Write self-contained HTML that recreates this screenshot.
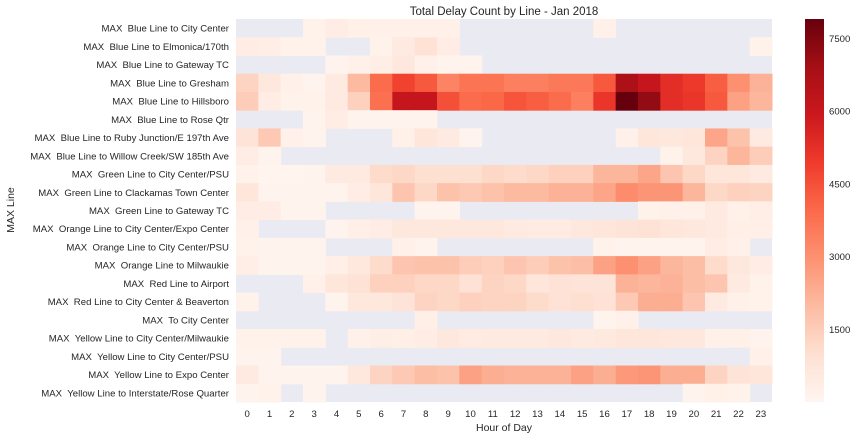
<!DOCTYPE html>
<html><head><meta charset="utf-8">
<style>
body{margin:0;background:#fff;font-family:"Liberation Sans",sans-serif;}
svg text{font-family:"Liberation Sans",sans-serif;fill:#262626;white-space:pre;}
</style></head>
<body>
<svg id="chart" width="860" height="438">
<text x="504" y="15" font-size="11.5" text-anchor="middle">Total Delay Count by Line - Jan 2018</text>
<text x="504" y="431" font-size="10.5" text-anchor="middle">Hour of Day</text>
<text x="14" y="210" font-size="10.5" text-anchor="middle" transform="rotate(-90 14 210)">MAX Line</text>
<g id="cells"></g>
<g id="ylabels"></g>
<g id="xlabels"></g>
<defs><linearGradient id="cbgrad" x1="0" y1="1" x2="0" y2="0"></linearGradient></defs>
<rect x="805" y="19" width="19" height="383" fill="url(#cbgrad)"/>
<g id="cbticks"></g>
</svg>
<script>
const lines = ["MAX  Blue Line to City Center","MAX  Blue Line to Elmonica/170th","MAX  Blue Line to Gateway TC","MAX  Blue Line to Gresham","MAX  Blue Line to Hillsboro","MAX  Blue Line to Rose Qtr","MAX  Blue Line to Ruby Junction/E 197th Ave","MAX  Blue Line to Willow Creek/SW 185th Ave","MAX  Green Line to City Center/PSU","MAX  Green Line to Clackamas Town Center","MAX  Green Line to Gateway TC","MAX  Orange Line to City Center/Expo Center","MAX  Orange Line to City Center/PSU","MAX  Orange Line to Milwaukie","MAX  Red Line to Airport","MAX  Red Line to City Center & Beaverton","MAX  To City Center","MAX  Yellow Line to City Center/Milwaukie","MAX  Yellow Line to City Center/PSU","MAX  Yellow Line to Expo Center","MAX  Yellow Line to Interstate/Rose Quarter"];
const hours = [0,1,2,3,4,5,6,7,8,9,10,11,12,13,14,15,16,17,18,19,20,21,22,23];
const cbTicks = [1500,3000,4500,6000,7500];
const N = null;
const row0 = [N,N,N,150,400,250,200,200,200,200,N,N,N,N,N,N,200,N,N,N,N,N,N,N];
const row1 = [400,350,150,150,N,N,150,500,900,400,N,N,N,N,N,N,N,N,N,N,N,N,N,150];
const row2 = [N,N,N,N,100,200,350,600,200,100,100,N,N,N,N,N,N,N,N,N,N,N,N,N];
const row3 = [1300,600,200,100,500,2000,3900,4800,4300,3300,3700,3700,3400,3400,3600,3600,4300,6700,6100,5300,5000,4200,3000,2200];
const row4 = [1500,400,150,150,500,1400,3800,6100,6100,4500,3900,4000,4400,4200,3900,3400,5100,7900,7200,5300,5100,4300,2600,2100];
const row5 = [N,N,N,100,400,100,100,100,100,N,N,N,N,N,N,N,N,N,N,N,N,N,N,N];
const row6 = [800,1600,200,100,N,N,N,250,700,500,100,N,N,N,N,N,N,200,700,600,700,2500,1800,500];
const row7 = [400,100,N,N,N,N,N,N,N,N,N,N,N,N,N,N,N,N,N,150,600,1300,2100,1500];
const row8 = [150,50,50,100,500,500,1100,1200,1000,1000,1000,1200,1100,1200,1400,1400,2100,2100,2500,1700,1200,700,700,500];
const row9 = [700,100,100,100,100,400,700,1700,1200,1800,1600,1800,2000,2000,2200,2200,2500,3100,2900,2900,2100,1200,1400,1300];
const row10 = [400,400,100,100,N,N,N,N,100,100,N,N,N,N,N,N,N,N,150,200,200,500,200,350];
const row11 = [200,N,N,N,100,300,400,600,600,600,600,600,500,450,450,600,700,800,900,700,600,500,300,300];
const row12 = [150,100,100,100,N,N,N,200,100,N,N,N,N,N,N,N,150,100,100,100,100,400,200,N];
const row13 = [350,100,100,100,300,600,1100,1700,1800,1800,1500,1400,1700,1500,1800,1900,2600,3000,2600,2100,1900,1100,600,400];
const row14 = [N,N,N,200,700,900,1400,1400,1200,1200,900,1300,1200,700,900,800,800,2200,2100,2200,1900,1700,500,150];
const row15 = [150,N,N,N,100,600,600,800,1300,1200,1400,1300,1300,1100,900,1000,900,1600,2300,2300,1700,500,200,150];
const row16 = [N,N,N,N,N,N,N,N,300,N,N,N,N,N,N,N,100,200,N,N,N,N,N,N];
const row17 = [150,150,150,150,N,200,350,300,400,600,450,500,500,500,600,500,550,700,700,600,600,200,250,100];
const row18 = [100,100,N,N,N,N,N,N,N,N,N,N,N,N,N,N,N,N,N,N,N,N,N,200];
const row19 = [500,100,100,100,100,600,1300,1600,1900,1800,2600,2300,2200,2200,2200,2600,2300,2800,2900,2300,2300,1300,800,700];
const row20 = [100,150,N,100,N,N,N,N,N,N,N,N,N,N,N,N,N,N,N,N,100,250,150,N];
const values = [row0,row1,row2,row3,row4,row5,row6,row7,row8,row9,row10,row11,row12,row13,row14,row15,row16,row17,row18,row19,row20];

const VMIN=0, VMAX=7900;
const X0=236, X1=772, Y0=19, Y1=402;
const cw=(X1-X0)/hours.length, rh=(Y1-Y0)/lines.length;
const xPos=i=>X0+i*cw, yPos=j=>Y0+j*rh;
const stops=["#fff5f0","#fee0d2","#fcbba1","#fc9272","#fb6a4a","#ef3b2c","#cb181d","#a50f15","#67000d"];
function hex(h){return [1,3,5].map(k=>parseInt(h.substr(k,2),16));}
function color(v){let t=Math.max(0,Math.min(1,(v-VMIN)/(VMAX-VMIN)))*(stops.length-1);
 let i=Math.min(Math.floor(t),stops.length-2),f=t-i;const a=hex(stops[i]),b=hex(stops[i+1]);
 return "rgb("+a.map((c,k)=>Math.round(c+(b[k]-c)*f)).join(",")+")";}
const NS="http://www.w3.org/2000/svg";
const cells=document.getElementById("cells");
const bg=document.createElementNS(NS,"rect");
bg.setAttribute("x",X0);bg.setAttribute("y",Y0);bg.setAttribute("width",X1-X0);bg.setAttribute("height",Y1-Y0);bg.setAttribute("fill","#eaeaf2");


cells.appendChild(bg);
values.forEach((row,j)=>row.forEach((v,i)=>{
 if(v===null)return;
 const r=document.createElementNS(NS,"rect");
 r.setAttribute("x",xPos(i));r.setAttribute("y",yPos(j));r.setAttribute("width",cw+0.5);r.setAttribute("height",rh+0.5);r.setAttribute("fill",color(v));
 
 
 cells.appendChild(r);
}));
const yl=document.getElementById("ylabels");
lines.forEach((l,j)=>{const t=document.createElementNS(NS,"text");
 t.setAttribute("x",229);t.setAttribute("y",yPos(j)+rh/2+3.5);t.setAttribute("font-size","9.6");t.setAttribute("text-anchor","end");t.textContent=l;
 
 
 yl.appendChild(t);});
const xl=document.getElementById("xlabels");
hours.forEach((h,i)=>{const t=document.createElementNS(NS,"text");
 t.setAttribute("x",xPos(i)+cw/2);t.setAttribute("y",417);t.setAttribute("font-size","9.6");t.setAttribute("text-anchor","middle");t.textContent=h;
 
 
 xl.appendChild(t);});
const g=document.getElementById("cbgrad");
stops.forEach((s,k)=>{const st=document.createElementNS(NS,"stop");st.setAttribute("offset",k/(stops.length-1));st.setAttribute("stop-color",s);g.appendChild(st);});
const cb=document.getElementById("cbticks");
cbTicks.forEach(v=>{const y=Y1-(v-VMIN)/(VMAX-VMIN)*(Y1-Y0);const t=document.createElementNS(NS,"text");
 t.setAttribute("x",829);t.setAttribute("y",y+3.5);t.setAttribute("font-size","9.6");t.textContent=v;
 
 
 cb.appendChild(t);});
</script>
</body></html>
